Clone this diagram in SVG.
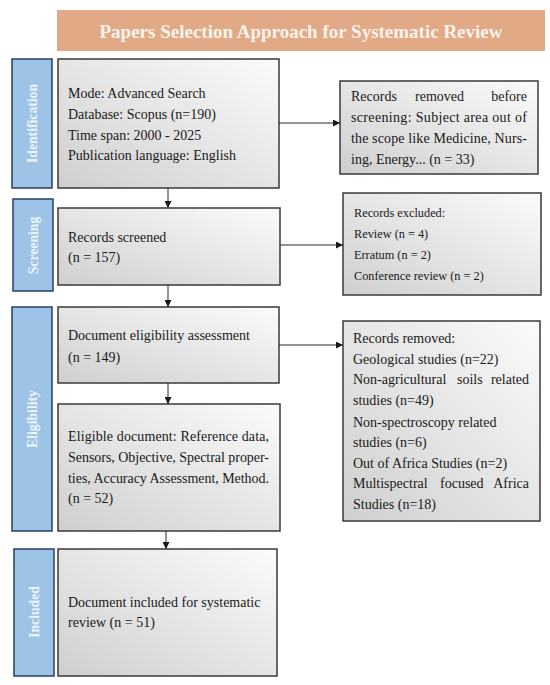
<svg xmlns="http://www.w3.org/2000/svg" width="550" height="685" viewBox="0 0 550 685">
<defs>
<linearGradient id="g" x1="1" y1="0" x2="0" y2="1">
<stop offset="0" stop-color="#fbfbfb"/>
<stop offset="1" stop-color="#cfcfcf"/>
</linearGradient>
<marker id="ah" viewBox="0 0 10 10" refX="10" refY="5" markerWidth="7" markerHeight="7" markerUnits="userSpaceOnUse" orient="auto">
<path d="M0,0 L10,5 L0,10 z" fill="#1a1a1a"/>
</marker>
</defs>
<style>
.box{fill:url(#g);stroke:#3a3a3a;stroke-width:1.5}
.lab{fill:#9dc3e6;stroke:#263f6a;stroke-width:1.5}
.lt{font-family:"Liberation Serif",serif;font-weight:bold;font-size:13.7px;fill:#eef5fb;text-anchor:middle}
.t{font-family:"Liberation Serif",serif;font-size:14px;fill:#1a1a1a}
.s{font-family:"Liberation Serif",serif;font-size:12.3px;fill:#1a1a1a}
.c{stroke:#2a2a2a;stroke-width:1;fill:none;marker-end:url(#ah)}
</style>
<rect width="550" height="685" fill="#ffffff"/>
<g id="title">
<rect x="57" y="10" width="488" height="41" fill="#e1a986"/>
<text x="301" y="38" font-family="Liberation Serif,serif" font-weight="bold" font-size="19" fill="#fbf3ec" text-anchor="middle">Papers Selection Approach for Systematic Review</text>
</g>
<g id="lab-identification">
<rect class="lab" x="12" y="59" width="40" height="129"/>
<text class="lt" transform="translate(37,123.5) rotate(-90)">Identification</text>
</g>
<g id="lab-screening">
<rect class="lab" x="13" y="199" width="40" height="92"/>
<text class="lt" transform="translate(38,245.5) rotate(-90)">Screening</text>
</g>
<g id="lab-eligibility">
<rect class="lab" x="12" y="307" width="40" height="224"/>
<text class="lt" transform="translate(37,419) rotate(-90)">Eligibility</text>
</g>
<g id="lab-included">
<rect class="lab" x="14" y="549" width="40" height="127"/>
<text class="lt" transform="translate(39,612) rotate(-90)">Included</text>
</g>
<g id="identification">
<rect class="box" x="58" y="59" width="221" height="129"/>
<text class="t" x="68" y="98">Mode: Advanced Search</text>
<text class="t" x="68" y="119">Database: Scopus (n=190)</text>
<text class="t" x="68" y="139.5">Time span: 2000 - 2025</text>
<text class="t" x="68" y="160">Publication language: English</text>
</g>
<g id="screened">
<rect class="box" x="58" y="208" width="222" height="77"/>
<text class="t" x="68" y="242">Records screened</text>
<text class="t" x="68" y="262">(n = 157)</text>
</g>
<g id="eligibility">
<rect class="box" x="58" y="307" width="221" height="76"/>
<text class="t" x="68" y="340">Document eligibility assessment</text>
<text class="t" x="68" y="362">(n = 149)</text>
</g>
<g id="eligible">
<rect class="box" x="58" y="404" width="222" height="127"/>
<text class="t" x="68" y="441" textLength="201" lengthAdjust="spacing">Eligible document: Reference data,</text>
<text class="t" x="68" y="462" textLength="201" lengthAdjust="spacing">Sensors, Objective, Spectral proper-</text>
<text class="t" x="68" y="483" textLength="201" lengthAdjust="spacing">ties, Accuracy Assessment, Method.</text>
<text class="t" x="68" y="503">(n = 52)</text>
</g>
<g id="included">
<rect class="box" x="58" y="549" width="219" height="127"/>
<text class="t" x="68" y="607">Document included for systematic</text>
<text class="t" x="68" y="627">review (n = 51)</text>
</g>
<g id="removed-before">
<rect class="box" x="340" y="81" width="198" height="93"/>
<text class="t" x="351" y="101">Records</text>
<text class="t" x="415" y="101">removed</text>
<text class="t" x="527" y="101" text-anchor="end">before</text>
<text class="t" x="351" y="122" textLength="176" lengthAdjust="spacing">screening: Subject area out of</text>
<text class="t" x="351" y="143" textLength="176" lengthAdjust="spacing">the scope like Medicine, Nurs-</text>
<text class="t" x="351" y="164">ing, Energy... (n = 33)</text>
</g>
<g id="excluded">
<rect class="box" x="343" y="193" width="198" height="102"/>
<text class="s" x="354" y="217">Records excluded:</text>
<text class="s" x="354" y="238">Review (n = 4)</text>
<text class="s" x="354" y="259">Erratum (n = 2)</text>
<text class="s" x="354" y="280">Conference review (n = 2)</text>
</g>
<g id="removed">
<rect class="box" x="343" y="321" width="197" height="200"/>
<text class="t" x="353" y="343">Records removed:</text>
<text class="t" x="353" y="364">Geological studies (n=22)</text>
<text class="t" x="353" y="384">Non-agricultural</text>
<text class="t" x="457" y="384">soils</text>
<text class="t" x="529" y="384" text-anchor="end">related</text>
<text class="t" x="353" y="405">studies (n=49)</text>
<text class="t" x="353" y="427">Non-spectroscopy related</text>
<text class="t" x="353" y="447">studies (n=6)</text>
<text class="t" x="353" y="468">Out of Africa Studies (n=2)</text>
<text class="t" x="353" y="488">Multispectral</text>
<text class="t" x="440" y="488">focused</text>
<text class="t" x="529" y="488" text-anchor="end">Africa</text>
<text class="t" x="353" y="509">Studies (n=18)</text>
</g>
<g id="connectors">
<line class="c" x1="168" y1="188" x2="168" y2="208"/>
<line class="c" x1="168" y1="285" x2="168" y2="307"/>
<line class="c" x1="168" y1="383" x2="168" y2="404"/>
<line class="c" x1="166" y1="531" x2="166" y2="549"/>
<line class="c" x1="279" y1="123" x2="340" y2="123"/>
<line class="c" x1="280" y1="245" x2="343" y2="245"/>
<line class="c" x1="279" y1="345" x2="343" y2="345"/>
</g>
</svg>
